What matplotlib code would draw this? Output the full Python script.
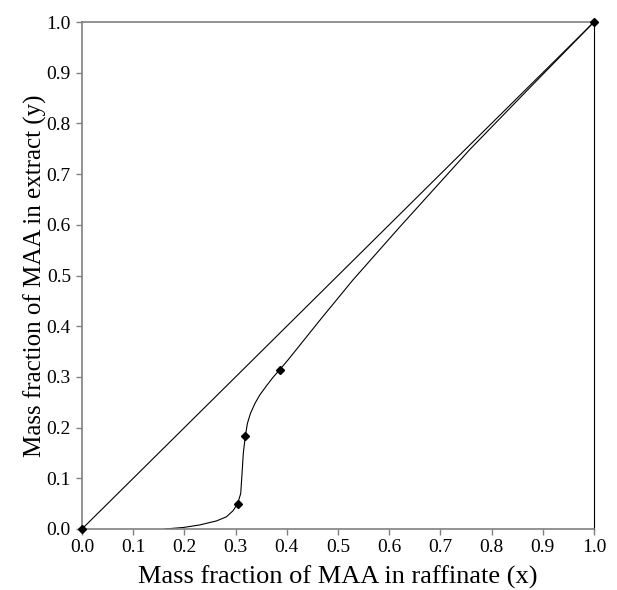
import matplotlib
matplotlib.use("Agg")
import matplotlib.pyplot as plt

# Equilibrium curve (x = raffinate, y = extract)
curve_x = [0.162, 0.198, 0.230, 0.263, 0.282, 0.295, 0.304, 0.310, 0.313, 0.315,
           0.319, 0.323, 0.329, 0.338, 0.347, 0.360, 0.373, 0.386, 0.402, 0.468,
           0.529, 0.620, 0.757, 0.880, 1.000]
curve_y = [0.000, 0.003, 0.008, 0.016, 0.024, 0.036, 0.050, 0.070, 0.116, 0.149,
           0.183, 0.208, 0.228, 0.248, 0.264, 0.282, 0.299, 0.314, 0.333, 0.416,
           0.491, 0.595, 0.748, 0.876, 1.000]

# Measured data points
pts_x = [0.0, 0.304, 0.319, 0.386, 1.0]
pts_y = [0.0, 0.050, 0.183, 0.314, 1.0]

# Diagonal y = x
diag = [0.0, 1.0]

ticks = [i / 10 for i in range(11)]
tick_labels = [f"{t:.1f}" for t in ticks]

plt.rcParams["font.family"] = ["Liberation Serif", "DejaVu Serif"]

fig = plt.figure(figsize=(6.17, 5.90), dpi=100)
ax = fig.add_axes([0.1329, 0.1034, 0.8298, 0.8593])

ax.plot(diag, diag, color="black", linewidth=0.8)
ax.plot(curve_x, curve_y, color="black", linewidth=0.8)
ax.plot(pts_x, pts_y, linestyle="none", marker="D", markersize=4.5,
        color="black", clip_on=False, zorder=5)

ax.set_xlim(0, 1)
ax.set_ylim(0, 1)
ax.set_xticks(ticks)
ax.set_xticklabels(tick_labels)
ax.set_yticks(ticks)
ax.set_yticklabels(tick_labels)
ax.tick_params(direction="out", length=4, width=1, color="#808080",
               labelsize=14)
ax.tick_params(axis="x", pad=3)
ax.tick_params(axis="y", pad=4)

for side in ["left", "bottom", "top"]:
    ax.spines[side].set_color("#808080")
    ax.spines[side].set_linewidth(1.2)
ax.spines["right"].set_color("black")
ax.spines["right"].set_linewidth(0.8)

ax.set_xlabel("Mass fraction of MAA in raffinate (x)", fontsize=19, labelpad=7)
ax.set_ylabel("Mass fraction of MAA in extract (y)", fontsize=18, labelpad=0)

fig.savefig("out.png", dpi=100)
